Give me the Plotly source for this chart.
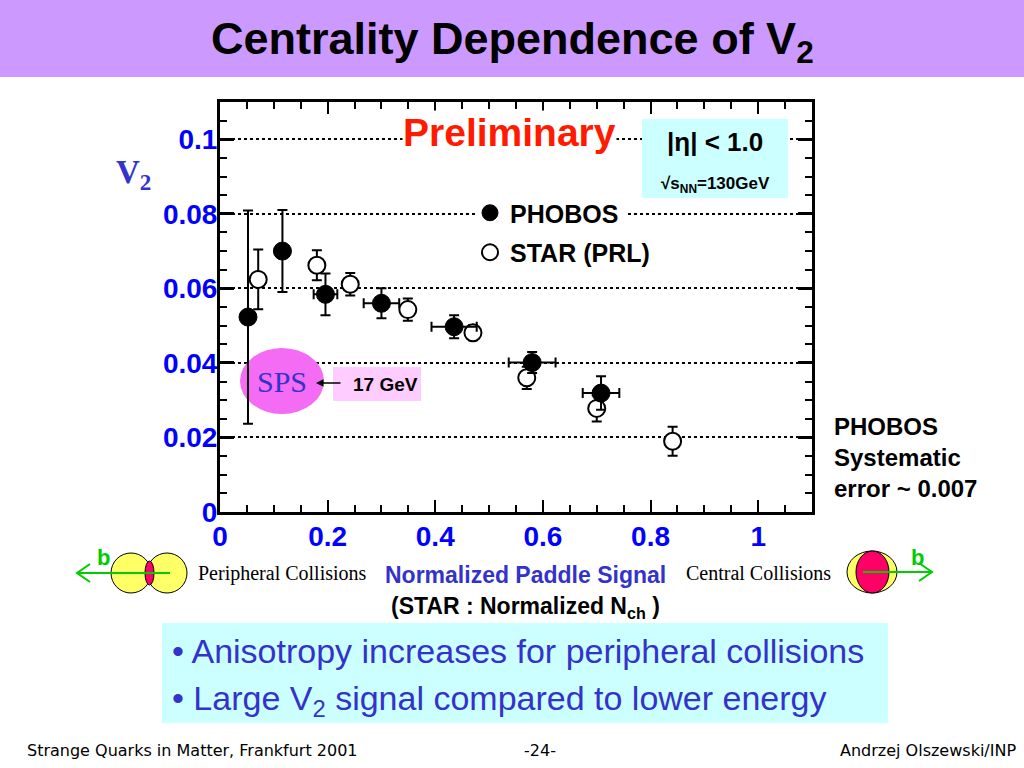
import plotly.graph_objects as go

# PHOBOS (filled) and STAR (open) v2 vs normalized paddle signal
phobos_x = [0.052, 0.116, 0.196, 0.300, 0.435, 0.580, 0.708]
phobos_y = [0.0523, 0.0700, 0.0584, 0.0560, 0.0497, 0.0401, 0.0319]
phobos_yerr = [0.0286, 0.0110, 0.0056, 0.0040, 0.0031, 0.0028, 0.0045]
phobos_xerr = [0.007, 0.0065, 0.022, 0.033, 0.042, 0.0435, 0.034]

star_x = [0.071, 0.180, 0.242, 0.349, 0.470, 0.570, 0.700, 0.841]
star_y = [0.0624, 0.0662, 0.0611, 0.0543, 0.0481, 0.0360, 0.0278, 0.0190]
star_yerr = [0.0080, 0.0040, 0.0030, 0.0030, 0.0020, 0.0030, 0.0035, 0.0039]

x_range = [0, 1.1]
y_range = [0, 0.11]

# slide geometry (pixels) -> paper fractions
W, H = 1024, 768
L, R, T, B = 220, 812, 102, 512


def px(x):
    return (x - L) / (R - L)


def py(y):
    return (B - y) / (B - T)


BLUE = '#0000ff'
SLATE = '#3333cc'
GREEN = '#00cc00'

fig = go.Figure()

fig.add_trace(go.Scatter(
    x=star_x, y=star_y, mode='markers', name='STAR (PRL)',
    legendrank=2, legendgroup='star',
    marker=dict(symbol='circle', size=17, color='white',
                line=dict(color='black', width=2)),
    error_y=dict(type='data', array=star_yerr, color='black',
                 thickness=2, width=5),
))
fig.add_trace(go.Scatter(
    x=phobos_x, y=phobos_y, mode='markers', name='PHOBOS',
    legendrank=1, legendgroup='phobos',
    marker=dict(symbol='circle', size=18, color='black',
                line=dict(color='black', width=1)),
    error_y=dict(type='data', array=phobos_yerr, color='black',
                 thickness=2, width=5),
    error_x=dict(type='data', array=phobos_xerr, color='black',
                 thickness=2, width=5),
))

shapes = [
    # title band
    dict(type='rect', xref='paper', yref='paper', layer='below',
         x0=px(0), x1=px(W), y0=py(0), y1=py(77),
         fillcolor='#cc99ff', line=dict(width=0)),
    # bullet box
    dict(type='rect', xref='paper', yref='paper', layer='below',
         x0=px(162), x1=px(888), y0=py(623), y1=py(723),
         fillcolor='#ccffff', line=dict(width=0)),
    # eta box
    dict(type='rect', xref='paper', yref='paper', layer='above',
         x0=px(642), x1=px(788), y0=py(119), y1=py(198),
         fillcolor='#ccffff', line=dict(width=0)),
    # white patch behind the legend text
    dict(type='rect', xref='paper', yref='paper', layer='above',
         x0=px(478), x1=px(628), y0=py(198), y1=py(266),
         fillcolor='white', line=dict(width=0)),
    # SPS blob, sits over the grid but under the points
    dict(type='circle', xref='x', yref='y', layer='between',
         x0=px(240) * x_range[1], x1=px(324) * x_range[1],
         y0=py(348) * y_range[1], y1=py(414) * y_range[1],
         fillcolor='#f36cf3', line=dict(width=0)),
    # 17 GeV label
    dict(type='rect', xref='paper', yref='paper', layer='above',
         x0=px(333), x1=px(421), y0=py(367), y1=py(401),
         fillcolor='#ffccff', line=dict(width=0)),
    # peripheral collision
    dict(type='circle', xref='paper', yref='paper',
         x0=px(111), x1=px(151), y0=py(553), y1=py(593),
         fillcolor='#ffff66', line=dict(color='black', width=1)),
    dict(type='circle', xref='paper', yref='paper',
         x0=px(147), x1=px(187), y0=py(553), y1=py(593),
         fillcolor='#ffff66', line=dict(color='black', width=1)),
    dict(type='circle', xref='paper', yref='paper',
         x0=px(145), x1=px(154), y0=py(561), y1=py(585),
         fillcolor='#ff0066', line=dict(color='black', width=1)),
    # central collision
    dict(type='circle', xref='paper', yref='paper',
         x0=px(847), x1=px(897), y0=py(551), y1=py(593),
         fillcolor='#ffff66', line=dict(color='black', width=1)),
    dict(type='circle', xref='paper', yref='paper',
         x0=px(856), x1=px(889), y0=py(551), y1=py(593),
         fillcolor='#ff0066', line=dict(color='black', width=1)),
]


def path(points):
    return ' '.join(('M' if i == 0 else 'L') + f' {px(a):.5f},{py(b):.5f}'
                    for i, (a, b) in enumerate(points))


# impact parameter arrows
for pts in ([(170, 573), (77, 573)], [(90, 564), (77, 573), (90, 582)],
            [(863, 572), (932, 572)], [(919, 563), (932, 572), (919, 581)]):
    shapes.append(dict(type='path', xref='paper', yref='paper', path=path(pts),
                       line=dict(color=GREEN, width=2)))

ann = []


def text(x, y, s, size, color='black', family='Liberation Sans', bold=True,
         xanchor='center', align='center', bg=None):
    a = dict(x=px(x), y=py(y), xref='paper', yref='paper', text=s,
             showarrow=False, xanchor=xanchor, yanchor='middle',
             align=align,
             font=dict(family=family, size=size, color=color,
                       weight='bold' if bold else 'normal'))
    if bg:
        a['bgcolor'] = bg
        a['borderpad'] = 0
    ann.append(a)


text(512, 41, 'Centrality Dependence of V<sub>2</sub>', 45)
text(509, 133, 'Preliminary', 39, color='#ff1a00', bg='white')
text(715, 142, '|η| &lt; 1.0', 26)
text(715, 185, '√s<sub>NN</sub>=130GeV', 17)
text(282, 381, 'SPS', 30, color=SLATE, family='Liberation Serif', bold=False)
text(385, 384, '17 GeV', 19)
text(832, 457, 'PHOBOS<br>Systematic<br>error ~ 0.007', 24,
     xanchor='left', align='left')
text(133, 174, 'V<sub>2</sub>', 33, color=SLATE, family='Liberation Serif')
text(525, 575, 'Normalized Paddle Signal', 23, color=SLATE)
text(525, 607, '(STAR : Normalized N<sub>ch</sub> )', 23)
text(282, 573, 'Peripheral Collisions', 20, family='Liberation Serif', bold=False)
text(758, 573, 'Central Collisions', 20, family='Liberation Serif', bold=False)
text(103, 557, 'b', 22, color=GREEN)
text(918, 557, 'b', 22, color=GREEN)
text(170, 651, '• Anisotropy increases for peripheral collisions', 34,
     color=SLATE, bold=False, xanchor='left', align='left')
text(170, 700, '• Large V<sub>2</sub> signal compared to lower energy', 34,
     color=SLATE, bold=False, xanchor='left', align='left')
text(25, 750, 'Strange Quarks in Matter, Frankfurt 2001', 16,
     family='DejaVu Sans', bold=False, xanchor='left')
text(540, 750, '-24-', 16, family='DejaVu Sans', bold=False)
text(1018, 750, 'Andrzej Olszewski/INP', 16, family='DejaVu Sans',
     bold=False, xanchor='right')

# arrow for 17 GeV
ann.append(dict(x=px(316), y=py(383), xref='paper', yref='paper', text='',
                showarrow=True, ax=26, ay=0, arrowhead=2, arrowsize=1,
                arrowwidth=1.5, arrowcolor='black'))

tickfont = dict(family='Liberation Sans', size=28, color=BLUE, weight='bold')

fig.update_layout(
    width=W, height=H,
    margin=dict(l=L, r=W - R, t=T, b=H - B, pad=0),
    paper_bgcolor='white',
    plot_bgcolor='rgba(0,0,0,0)',
    shapes=shapes,
    annotations=ann,
    showlegend=True,
    legend=dict(x=px(470), y=py(190), xanchor='left', yanchor='top',
                bgcolor='rgba(0,0,0,0)', borderwidth=0, tracegroupgap=4,
                traceorder='grouped',
                font=dict(family='Liberation Sans', size=25, color='black',
                          weight='bold')),
    xaxis=dict(range=x_range, dtick=0.2, tick0=0, showgrid=False,
               zeroline=False, showline=True, linecolor='black', linewidth=3,
               mirror='ticks', ticks='inside', ticklen=12, tickwidth=2,
               tickcolor='black', tickfont=tickfont, ticklabelstandoff=-3,
               minor=dict(dtick=0.05, ticks='inside', ticklen=7,
                          tickwidth=2, tickcolor='black', showgrid=False)),
    yaxis=dict(range=y_range, dtick=0.02, tick0=0, showgrid=True,
               gridcolor='black', griddash='dot', gridwidth=2,
               zeroline=False, showline=True, linecolor='black', linewidth=3,
               mirror='ticks', ticks='inside', ticklen=14, tickwidth=3,
               tickcolor='black', tickfont=tickfont, ticklabelstandoff=-6,
               minor=dict(dtick=0.005, ticks='inside', ticklen=7,
                          tickwidth=2, tickcolor='black', showgrid=False)),
)

fig.write_html("out.html", config={'displayModeBar': False},
               post_script="document.body.style.margin='0';")
